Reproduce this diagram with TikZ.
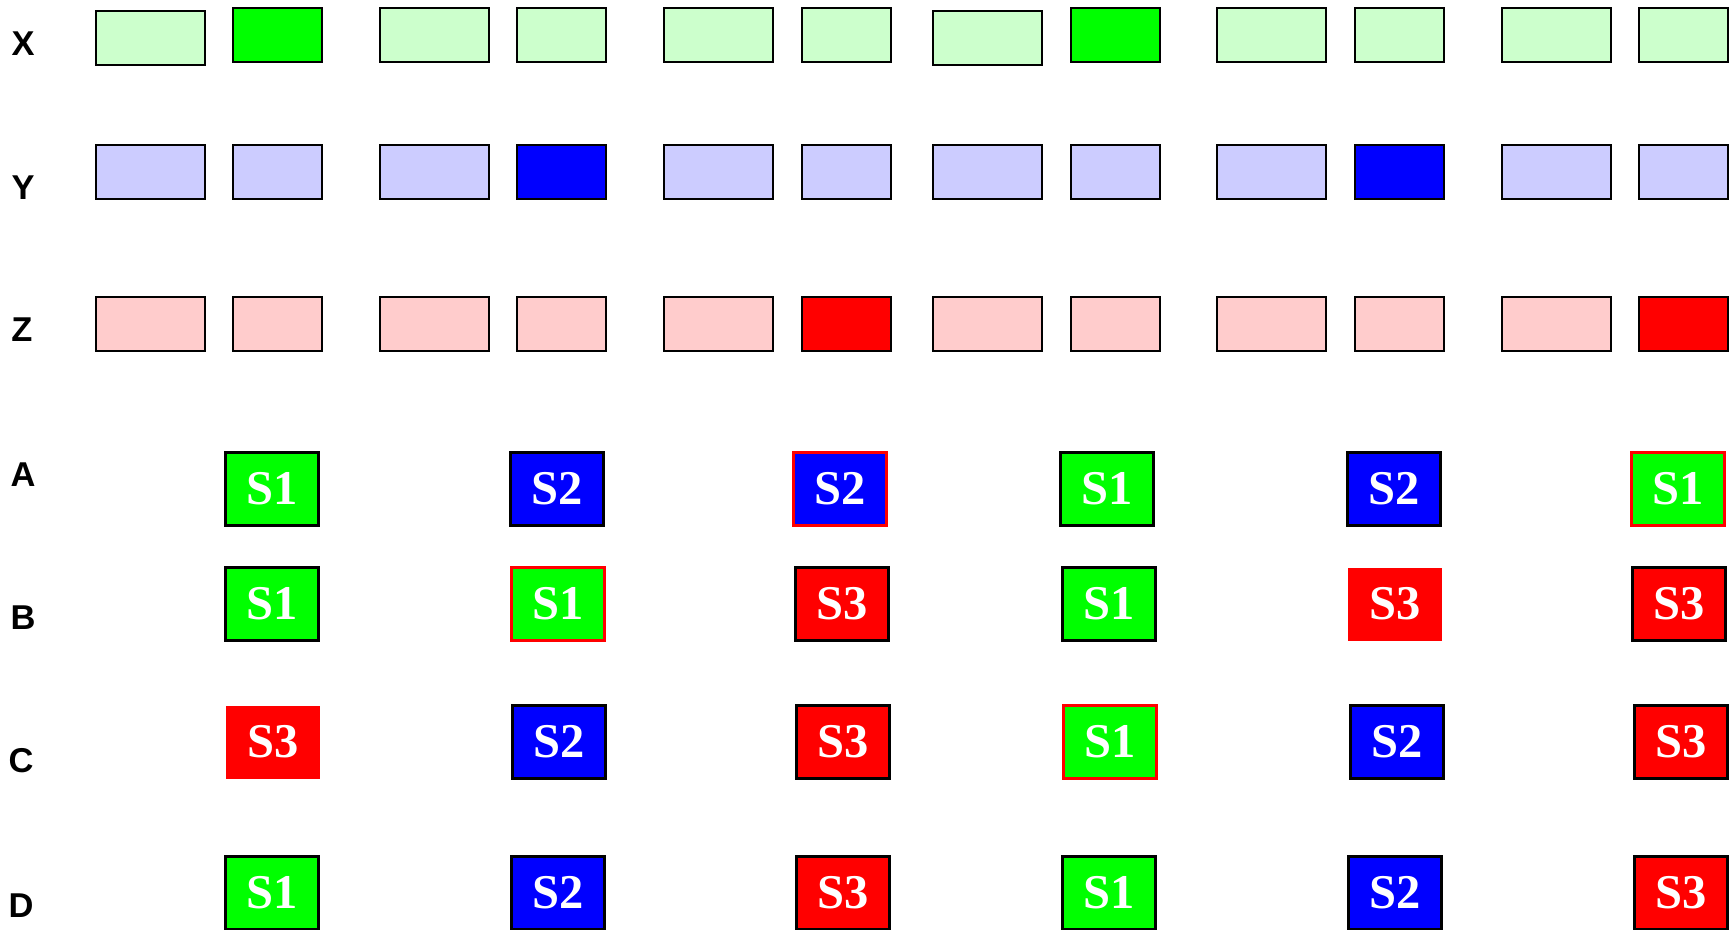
\documentclass[tikz,border=0pt]{standalone}
\usepackage{fontspec}
\setmainfont{Liberation Serif}
\setsansfont{Liberation Sans}
\usepackage{tikz}
\usetikzlibrary{positioning}
\definecolor{xOff}{HTML}{CCFFCC}
\definecolor{xOn}{HTML}{00FF00}
\definecolor{yOff}{HTML}{CCCCFF}
\definecolor{yOn}{HTML}{0000FF}
\definecolor{zOff}{HTML}{FFCCCC}
\definecolor{zOn}{HTML}{FF0000}

\tikzset{
  slot/.style={draw=black, line width=0.6pt, inner sep=0pt, minimum height=0.54cm, anchor=north west},
  wideslot/.style={slot, minimum width=1.09cm},
  narrowslot/.style={slot, minimum width=0.89cm},
  rowname/.style={font=\sffamily\bfseries\fontsize{9.8}{11}\selectfont, anchor=center, inner sep=0pt},
  statebox/.style={line width=0.65pt, inner sep=0pt, minimum width=0.93cm, minimum height=0.73cm, text=white, font=\rmfamily\bfseries\fontsize{13.8}{15}\selectfont}
}

\begin{document}
\begin{tikzpicture}[x=0.01cm, y=-0.01cm]
  \useasboundingbox (0,0) rectangle (1733,929);

  % row names
  \node[rowname] (lx) at (23,44) {X};
  \node[rowname] (ly) at (23,188) {Y};
  \node[rowname] (lz) at (22,330) {Z};
  \node[rowname] (la) at (23,475) {A};
  \node[rowname] (lb) at (23,618) {B};
  \node[rowname] (lc) at (21,761) {C};
  \node[rowname] (ld) at (21,906) {D};

  % X, Y, Z slots
  \foreach \wx/\wy/\nx/\nc [count=\i] in {95/10/232/xOn, 379/7/516/xOff, 663/7/801/xOff, 932/10/1070/xOn, 1216/7/1354/xOff, 1501/7/1638/xOff}{
    \node[wideslot, fill=xOff] (x\i-w) at (\wx,\wy) {};
    \node[narrowslot, fill=\nc] (x\i-n) at (\nx,7) {};
  }
  \foreach \wx/\nx/\nc [count=\i] in {95/232/yOff, 379/516/yOn, 663/801/yOff, 932/1070/yOff, 1216/1354/yOn, 1501/1638/yOff}{
    \node[wideslot, fill=yOff] (y\i-w) at (\wx,144) {};
    \node[narrowslot, fill=\nc] (y\i-n) at (\nx,144) {};
  }
  \foreach \wx/\nx/\nc [count=\i] in {95/232/zOff, 379/516/zOff, 663/801/zOn, 932/1070/zOff, 1216/1354/zOff, 1501/1638/zOn}{
    \node[wideslot, fill=zOff] (z\i-w) at (\wx,296) {};
    \node[narrowslot, fill=\nc] (z\i-n) at (\nx,296) {};
  }

  % states
  \foreach \cx/\s/\f/\b [count=\i] in {272/S1/xOn/black, 557/S2/yOn/black, 840/S2/yOn/zOn, 1107/S1/xOn/black, 1394/S2/yOn/black, 1678/S1/xOn/zOn}
    \node[statebox, fill=\f, draw=\b] (a\i) at (\cx,489) {\s};
  \foreach \cx/\s/\f/\b [count=\i] in {272/S1/xOn/black, 558/S1/xOn/zOn, 842/S3/zOn/black, 1109/S1/xOn/black, 1395/S3/zOn/none, 1679/S3/zOn/black}
    \node[statebox, fill=\f, draw=\b] (b\i) at (\cx,604) {\s};
  \foreach \cx/\s/\f/\b [count=\i] in {273/S3/zOn/none, 559/S2/yOn/black, 843/S3/zOn/black, 1110/S1/xOn/zOn, 1397/S2/yOn/black, 1681/S3/zOn/black}
    \node[statebox, fill=\f, draw=\b] (c\i) at (\cx,742) {\s};
  \foreach \cx/\s/\f/\b [count=\i] in {272/S1/xOn/black, 558/S2/yOn/black, 843/S3/zOn/black, 1109/S1/xOn/black, 1395/S2/yOn/black, 1681/S3/zOn/black}
    \node[statebox, fill=\f, draw=\b] (d\i) at (\cx,893) {\s};
\end{tikzpicture}
\end{document}
